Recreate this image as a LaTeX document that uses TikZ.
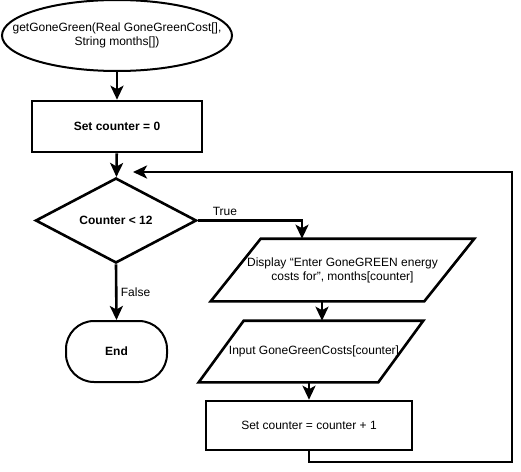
\documentclass[tikz,border=0pt]{standalone}
\usepackage{fontspec}
\setmainfont{Liberation Sans}
\usetikzlibrary{shapes.geometric,arrows.meta,positioning,calc}

\begin{document}
\begin{tikzpicture}[x=1pt, y=-1pt, line width=2.6pt,
	arr/.style={-{Stealth[length=14pt,width=13pt,inset=3.5pt]}},
	txt/.style={align=center, font=\fontsize{12}{14}\selectfont},
	boldtxt/.style={align=center, font=\bfseries\fontsize{12}{14}\selectfont},
	procbox/.style={draw, rectangle, inner sep=0pt}]
	\useasboundingbox (0,0) rectangle (521,471);
	% left column
	\node[draw, ellipse, line width=2pt, inner sep=0pt, minimum width=230pt, minimum height=71pt] (start) at (117,35.5) {};
	\node[txt] (starttext) at (start) {getGoneGreen(Real GoneGreenCost[],\\String months[])};
	\node[procbox, boldtxt, minimum width=170pt, minimum height=51pt] (init) at (117,126.5) {Set counter = 0};
	\node[draw, diamond, aspect=1.9, inner sep=0pt, boldtxt, minimum width=161pt, minimum height=85pt] (cond) at (116,220.5) {Counter < 12};
	\node[draw, rectangle, rounded corners=28pt, line width=2pt, boldtxt, minimum width=101pt, minimum height=61pt] (end) at (116.5,351.5) {End};
	% right column
	\node[txt, inner sep=0pt, minimum width=261pt, minimum height=60pt] (disp) at (342.5,270) {Display “Enter GoneGREEN energy\\costs for”, months[counter]};
	\draw ([xshift=50pt]disp.north west) -- (disp.north east) -- ([xshift=-50pt]disp.south east) -- (disp.south west) -- cycle;
	\node[txt, inner sep=0pt, minimum width=222pt, minimum height=59pt] (input) at (311,351.5) {\hspace*{6pt}Input GoneGreenCosts[counter]};
	\draw ([xshift=45pt]input.north west) -- (input.north east) -- ([xshift=-45pt]input.south east) -- (input.south west) -- cycle;
	\node[procbox, txt, minimum width=206pt, minimum height=49pt] (step) at (309,425.5) {Set counter = counter + 1};
	\coordinate (loopc) at (512,462);
	\coordinate (back) at (133,172);
	% connectors
	\draw[arr] (start) -- (init);
	\draw[arr] (init) -- (cond);
	\draw[arr] (cond.east) -| ([xshift=-40.5pt]disp.north) node[pos=0.13, above, txt] {True};
	\draw[arr] ([xshift=-20.5pt]disp.south) -- ([xshift=-20.5pt]disp.south |- input.north);
	\draw[arr] (input.south -| step.north) -- (step.north);
	\draw[arr] (step.south) |- (loopc) |- (back);
	\draw[arr] (cond.south) -- (end.north) node[midway, right, txt] {False};
\end{tikzpicture}
\end{document}
